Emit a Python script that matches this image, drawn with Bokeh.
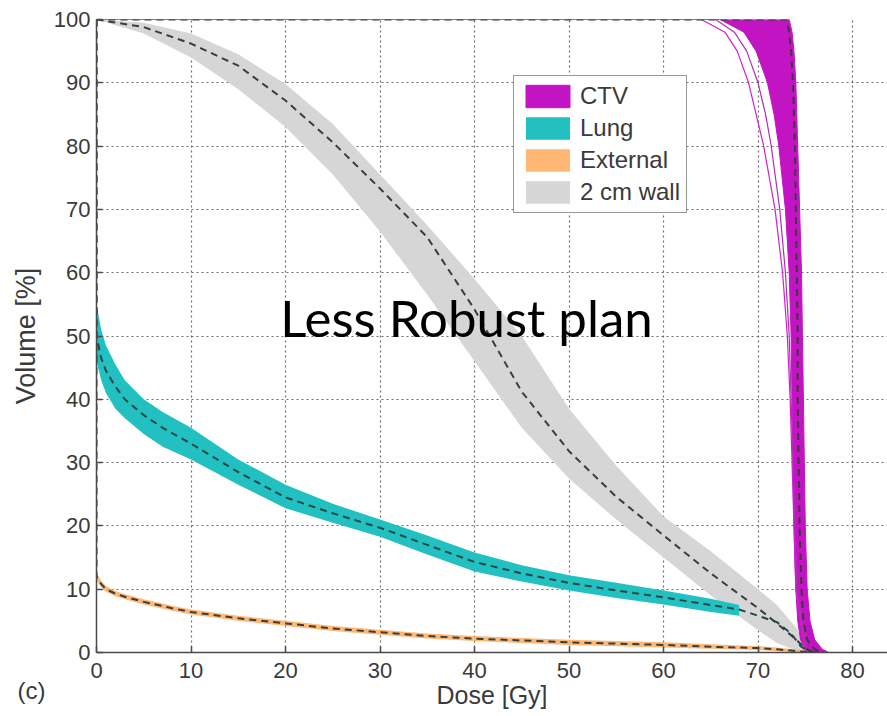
from bokeh.plotting import figure
from bokeh.models import Legend, LegendItem, Range1d, FixedTicker, Title
from bokeh.core.properties import value
from bokeh.embed import file_html
from bokeh.resources import INLINE

# ---------------- data ----------------
x_ticks = [0, 10, 20, 30, 40, 50, 60, 70, 80]
y_ticks = [0, 10, 20, 30, 40, 50, 60, 70, 80, 90, 100]

# 2 cm wall (gray) – dose grid, nominal and band
wall_dose = [0, 5, 10, 15, 20, 25, 30, 35, 40, 45, 50, 55, 60, 65, 70, 72, 74, 75, 76]
wall_nom = [100, 98.8, 96.2, 92.7, 87.2, 80.6, 73.3, 65.6, 54.2, 41.2, 31.8, 24.6, 18.5, 12.5, 7, 4.6, 2.1, 0.6, 0]
wall_lo = [100, 97.8, 94, 89, 83, 75.5, 66.5, 56.5, 46, 35.5, 27.5, 21, 15, 9, 3.5, 1.5, 0.3, 0, 0]
wall_hi = [100, 99.5, 97.8, 94.5, 89.8, 83.5, 75.5, 67.5, 59, 50, 38.5, 29.5, 21.5, 16, 10, 7.5, 4, 1.5, 0]

# Lung (cyan)
lung_dose = [0, 0.5, 1, 2, 3, 5, 7, 10, 15, 20, 25, 30, 35, 40, 45, 50, 55, 60, 65, 68]
lung_lo = [46, 43, 41, 38.5, 37, 34.5, 32.5, 30.5, 26.5, 22.8, 20.5, 18.3, 15.5, 12.8, 11.2, 9.8, 8.6, 7.6, 6.4, 5.8]
lung_hi = [55, 51, 48.5, 45.5, 43, 40, 38, 35.5, 30.5, 26.5, 23.5, 21, 18.5, 15.8, 13.8, 12.2, 11, 9.8, 8.5, 7.5]
lung_nom_dose = [0, 0, 0.5, 1, 2, 3, 5, 7, 10, 15, 20, 25, 30, 35, 40, 45, 50, 55, 60, 65, 68, 70, 72, 73.5, 74.5, 75.5]
lung_nom = [100, 50, 46.5, 44.5, 42, 40, 37.5, 35.5, 33, 28.5, 24.5, 22, 19.7, 17, 14.3, 12.5, 11, 9.8, 8.7, 7.5, 6.8, 5.8, 4.8, 3, 1, 0]

# External (orange)
ext_dose = [0, 0.5, 1, 2, 3, 5, 8, 10, 15, 20, 25, 30, 35, 40, 45, 50, 55, 60, 65, 70, 72, 75, 77]
ext_nom = [12, 10.8, 10, 9.3, 8.8, 8, 7, 6.4, 5.4, 4.6, 3.8, 3.2, 2.6, 2.2, 1.9, 1.6, 1.4, 1.2, 0.9, 0.7, 0.5, 0.1, 0]
ext_lo = [11.4, 10.3, 9.6, 8.9, 8.4, 7.6, 6.6, 6.0, 5.0, 4.2, 3.4, 2.8, 2.2, 1.8, 1.5, 1.2, 1.0, 0.8, 0.6, 0.4, 0.2, 0, 0]
ext_hi = [12.6, 11.3, 10.5, 9.7, 9.2, 8.4, 7.4, 6.8, 5.8, 5.0, 4.2, 3.6, 3.0, 2.6, 2.3, 2.0, 1.8, 1.6, 1.3, 1.0, 0.8, 0.3, 0]

# CTV (magenta) – dose as function of volume level
ctv_vol = [100, 98, 95, 90, 85, 80, 70, 60, 50, 40, 30, 20, 10, 5, 2, 0.5, 0]
ctv_lo = [66, 68.5, 69.8, 71, 71.7, 72.2, 72.9, 73.3, 73.5, 73.6, 73.7, 73.8, 74, 74.2, 74.5, 75, 75.5]
ctv_hi = [73.3, 73.6, 73.8, 74, 74.1, 74.2, 74.4, 74.6, 74.7, 74.8, 74.9, 75, 75.2, 75.5, 76, 76.8, 77.5]
ctv_nom = [73, 73.3, 73.5, 73.7, 73.8, 73.9, 74, 74.1, 74.2, 74.2, 74.3, 74.4, 74.6, 74.8, 75.2, 76, 77]
ctv_out_vol = [100, 98, 95, 90, 85, 80, 70, 60, 50, 40, 30, 20, 10, 0]
ctv_out1 = [64, 66.5, 67.8, 69, 69.8, 70.6, 71.8, 72.6, 73.1, 73.4, 73.6, 73.8, 74, 75]
ctv_out2 = [65.5, 67.5, 68.8, 70, 70.8, 71.4, 72.3, 72.9, 73.3, 73.5, 73.7, 73.9, 74.1, 75.2]

names = ["CTV", "Lung", "External", "2 cm wall"]
colors = ["#c214c2", "#22c0c0", "#ffab5c", "#d6d6d6"]

# ---------------- figure ----------------
p = figure(width=887, height=715, output_backend="svg", toolbar_location=None,
           x_range=Range1d(0, 83.7), y_range=Range1d(0, 100),
           min_border_left=96, min_border_right=0, min_border_top=19, min_border_bottom=63)
p.outline_line_color = None
p.background_fill_color = "white"

# bands
r_wall = p.varea(x=wall_dose, y1=wall_lo, y2=wall_hi, fill_color=colors[3], fill_alpha=1.0)
r_ext = p.varea(x=ext_dose, y1=ext_lo, y2=ext_hi, fill_color=colors[2], fill_alpha=0.85)
r_lung = p.varea(x=lung_dose, y1=lung_lo, y2=lung_hi, fill_color=colors[1], fill_alpha=1.0)

ctv_xs = [0] + ctv_lo + ctv_hi[::-1] + [0]
ctv_ys = [100] + ctv_vol + ctv_vol[::-1] + [100]
r_ctv = p.patch(x=ctv_xs, y=ctv_ys, fill_color=colors[0], line_color=colors[0], line_width=1)
p.line(x=ctv_out1, y=ctv_out_vol, line_color="#d020d0", line_width=1.2)
p.line(x=ctv_out2, y=ctv_out_vol, line_color="#b030b0", line_width=1.2)

# nominal dashed lines
dash_col = "#3c3c3c"
p.line(x=wall_dose, y=wall_nom, line_color=dash_col, line_width=2, line_dash="7 5")
p.line(x=lung_nom_dose, y=lung_nom, line_color="#264848", line_width=2, line_dash="7 5")
p.line(x=[0] + ext_dose, y=[100] + ext_nom, line_color=dash_col, line_width=2, line_dash="7 5")
p.line(x=[0] + ctv_nom, y=[100] + ctv_vol, line_color=dash_col, line_width=2, line_dash="7 5")

# axes / grid
for ax in (p.xaxis[0], p.yaxis[0]):
    ax.axis_line_color = "#4a4a4a"
    ax.axis_line_width = 1.5
    ax.major_tick_in = 6
    ax.major_tick_out = 0
    ax.major_tick_line_color = "#4a4a4a"
    ax.major_tick_line_width = 1.5
    ax.minor_tick_line_color = None
    ax.major_label_text_font = "Liberation Sans"
    ax.major_label_text_font_size = "22px"
    ax.major_label_text_color = "#3a3a3a"
    ax.axis_label_text_font = "Liberation Sans"
    ax.axis_label_text_font_style = "normal"
    ax.axis_label_text_color = "#3a3a3a"
p.xaxis.ticker = FixedTicker(ticks=x_ticks)
p.yaxis.ticker = FixedTicker(ticks=y_ticks)
p.xaxis.axis_label = "Dose [Gy]"
p.yaxis.axis_label = "Volume [%]"
p.xaxis.axis_label_text_font_size = "25px"
p.yaxis.axis_label_text_font_size = "27px"
p.xaxis.major_label_standoff = 10
p.yaxis.major_label_standoff = 6
p.xaxis.axis_label_standoff = 0
p.yaxis.axis_label_standoff = 10

p.grid.grid_line_color = "#555555"
p.grid.grid_line_dash = "2 3"
p.grid.grid_line_width = 1.2
p.grid.grid_line_alpha = 0.85

# legend
legend = Legend(items=[
    LegendItem(label=names[0], renderers=[r_ctv]),
    LegendItem(label=names[1], renderers=[r_lung]),
    LegendItem(label=names[2], renderers=[r_ext]),
    LegendItem(label=names[3], renderers=[r_wall]),
], location=(417, 439))
legend.glyph_width = 55
legend.glyph_height = 28
legend.spacing = 4
legend.padding = 6
legend.margin = 0
legend.label_standoff = 5
legend.label_text_font = "Liberation Sans"
legend.label_text_font_size = "24px"
legend.label_text_color = "#3a3a3a"
legend.border_line_color = "#333333"
legend.border_line_width = 1.5
legend.background_fill_alpha = 1.0
p.add_layout(legend, "center")

# annotations
p.text(x=[39.15], y=[53.0], text=["Less Robust plan"], text_font=value("Lato"),
       text_font_size="51px", text_color="black", text_align="center", text_baseline="alphabetic")
p.add_layout(Title(text="(c)", align="left", offset=-79, vertical_align="top", standoff=-70,
                   text_font="Liberation Sans", text_font_size="24px", text_font_style="normal",
                   text_color="#3a3a3a"), "below")

open("out.html", "w").write(file_html(p, INLINE))
